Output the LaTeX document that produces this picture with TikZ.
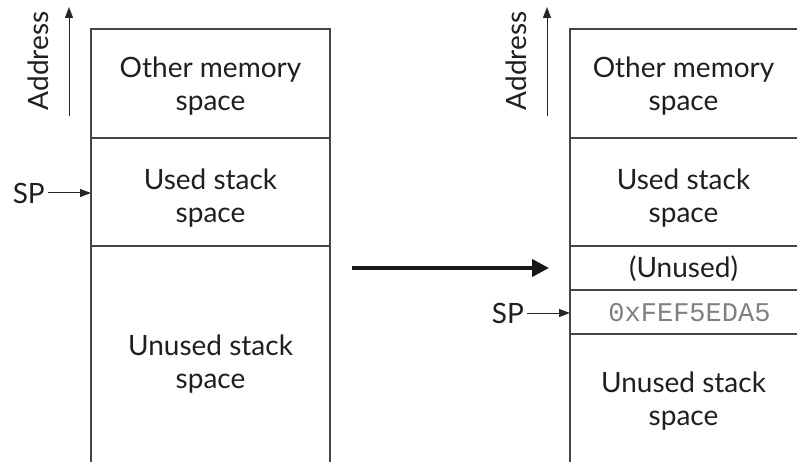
\documentclass[tikz,border=0pt]{standalone}
\usepackage{fontspec}
\setmainfont{Lato}
\setmonofont{Liberation Mono}
\usetikzlibrary{arrows.meta}
\definecolor{edge}{HTML}{444444}
\definecolor{monogray}{HTML}{808080}
\begin{document}
\begin{tikzpicture}[x=1pt,y=-1pt,
  wall/.style={draw=edge,line width=1.3pt},
  label/.style={font=\fontsize{28}{33.5}\selectfont,align=center,text=black!88},
  ptr/.style={draw=black!85,line width=1pt,-{Triangle[length=11pt,width=8pt]}},
  big/.style={draw=black!90,line width=4pt,-{Triangle[length=17pt,width=17pt]}}]
\useasboundingbox (0,0) rectangle (797,462);
% left column
\draw[wall] (91,462) -- (91,29) -- (330,29) -- (330,462);
\draw[wall] (91,138) -- (330,138);
\draw[wall] (91,246) -- (330,246);
\node[label] (lother) at (210.5,86) {Other memory\\space};
\node[label] (lused) at (210.5,198) {Used stack\\space};
\node[label] (lunused) at (210.5,364) {Unused stack\\space};
\coordinate (lsptip) at (91,193);
\node[label,anchor=east,inner sep=0pt] (lsp) at (45,193) {SP};
\draw[ptr] (lsp.east) ++(3,0) -- (lsptip);
\coordinate (laddrbot) at (69,116);
\coordinate (laddrtop) at (69,7);
\draw[ptr] (laddrbot) -- (laddrtop);
\node[label,rotate=90] (laddr) at (38,61) {Address};
% right column
\draw[wall] (570,462) -- (570,29) -- (797,29);
\draw[wall] (570,138) -- (797,138);
\draw[wall] (570,246) -- (797,246);
\draw[wall] (570,290) -- (797,290);
\draw[wall] (570,334) -- (797,334);
\node[label] (rother) at (683.5,86) {Other memory\\space};
\node[label] (rused) at (683.5,198) {Used stack\\space};
\node[label] (runusedslot) at (683.5,269) {(Unused)};
\node[font=\fontsize{27}{30}\ttfamily,text=monogray] (rval) at (689.5,313) {0xFEF5EDA5};
\node[label] (runused) at (683.5,401) {Unused stack\\space};
\coordinate (rsptip) at (570,313);
\node[label,anchor=east,inner sep=0pt] (rsp) at (524,313) {SP};
\draw[ptr] (rsp.east) ++(3,0) -- (rsptip);
\coordinate (raddrbot) at (547,116);
\coordinate (raddrtop) at (547,7);
\draw[ptr] (raddrbot) -- (raddrtop);
\node[label,rotate=90] (raddr) at (516,61) {Address};
% transition arrow
\coordinate (bigstart) at (352,268);
\coordinate (bigend) at (549,268);
\draw[big] (bigstart) -- (bigend);
\end{tikzpicture}
\end{document}
